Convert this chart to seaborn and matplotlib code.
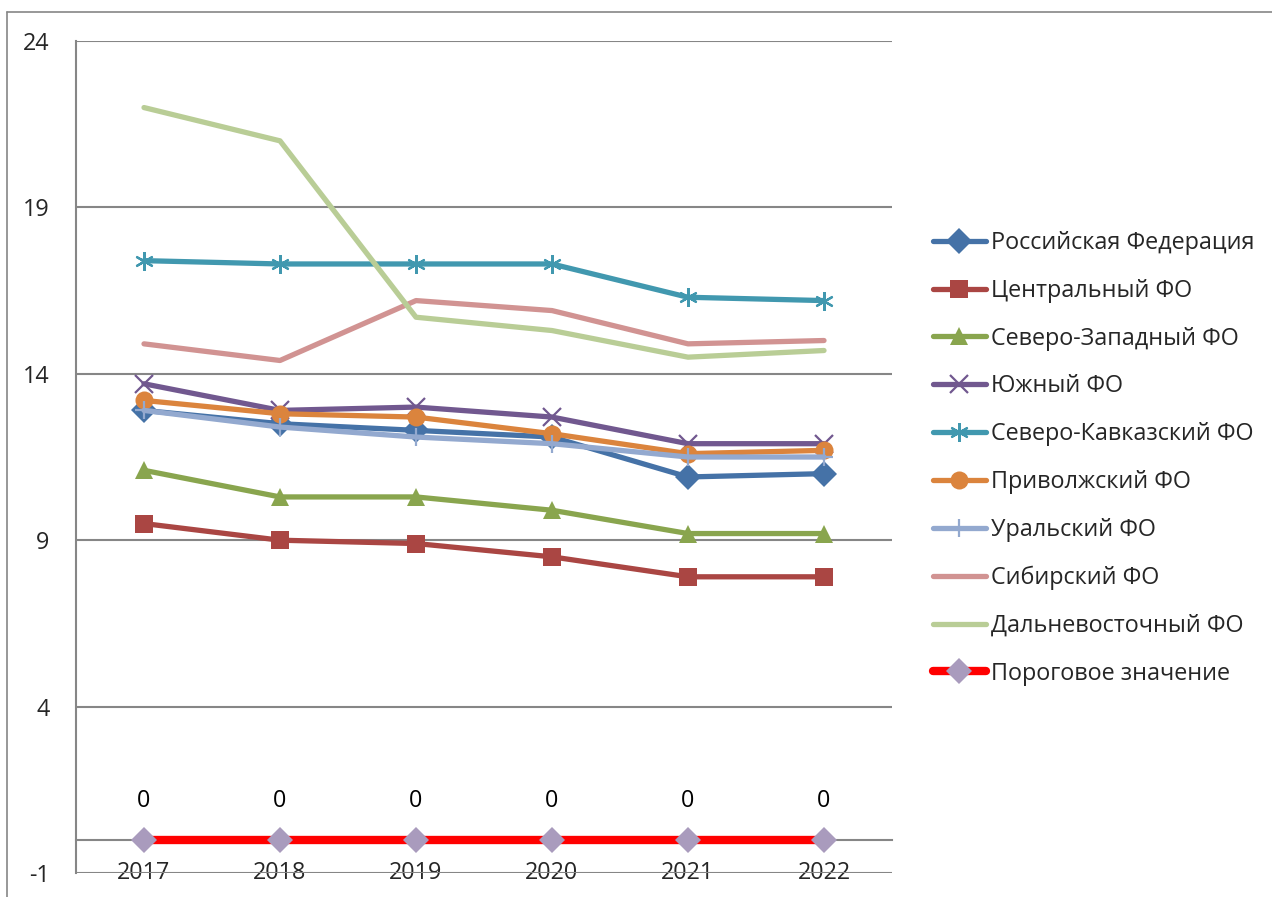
import pandas as pd
import numpy as np
import matplotlib
matplotlib.use("Agg")
import matplotlib.pyplot as plt
import seaborn as sns

# Data
years = ["2017", "2018", "2019", "2020", "2021", "2022"]
series_names = [
    "Российская Федерация",
    "Центральный ФО",
    "Северо-Западный ФО",
    "Южный ФО",
    "Северо-Кавказский ФО",
    "Приволжский ФО",
    "Уральский ФО",
    "Сибирский ФО",
    "Дальневосточный ФО",
    "Пороговое значение",
]
rf = [12.9, 12.5, 12.3, 12.1, 10.9, 11.0]
central = [9.5, 9.0, 8.9, 8.5, 7.9, 7.9]
north_west = [11.1, 10.3, 10.3, 9.9, 9.2, 9.2]
south = [13.7, 12.9, 13.0, 12.7, 11.9, 11.9]
north_caucasus = [17.4, 17.3, 17.3, 17.3, 16.3, 16.2]
volga = [13.2, 12.8, 12.7, 12.2, 11.6, 11.7]
ural = [12.9, 12.4, 12.1, 11.9, 11.5, 11.5]
siberia = [14.9, 14.4, 16.2, 15.9, 14.9, 15.0]
far_east = [22.0, 21.0, 15.7, 15.3, 14.5, 14.7]
threshold = [0, 0, 0, 0, 0, 0]

all_values = [rf, central, north_west, south, north_caucasus, volga, ural,
              siberia, far_east, threshold]

colors = ["#4572A7", "#AA4643", "#89A54E", "#71588F", "#4198AF", "#DB843D",
          "#93A9CF", "#D19392", "#B9CD96", "#FF0000"]
markers = ["D", "s", "^", "x", (6, 2, 0), "o", "+", None, None, "D"]

rows = []
for name, vals in zip(series_names, all_values):
    for i, (yr, v) in enumerate(zip(years, vals)):
        rows.append({"series": name, "year": yr, "pos": i, "value": v})
df = pd.DataFrame(rows)

sns.set_style("white")
plt.rcParams["font.family"] = ["Open Sans", "DejaVu Sans"]
plt.rcParams["axes.unicode_minus"] = False
grey = "#868686"
fs = 16.8

fig = plt.figure(figsize=(12.72, 8.97), dpi=100)
ax = fig.add_axes([76 / 1272, 1 - 873 / 897, (892 - 76) / 1272, (873 - 41) / 897])

for name, col, mk in zip(series_names, colors, markers):
    sub = df[df["series"] == name]
    lw = 6 if name == "Пороговое значение" else 3.8
    mfc = "#A99BBD" if name == "Пороговое значение" else col
    ms = 13 if mk in ("D", "s", "o", "^") else 13.5
    sns.lineplot(data=sub, x="pos", y="value", ax=ax, color=col, lw=lw,
                 marker=mk, markersize=ms, markerfacecolor=mfc,
                 markeredgecolor=mfc, markeredgewidth=1.6 if mk in ("x", "+", (6, 2, 0)) else 0,
                 label=name, zorder=3)

# data labels on threshold series
for i, v in enumerate(threshold):
    ax.annotate(f"{v:g}", (i, v), xytext=(0, 28), textcoords="offset points",
                ha="center", va="center", fontsize=fs, color="black")

ax.set_xlim(-0.5, len(years) - 0.5)
ax.set_ylim(-1, 24)
ax.set_yticks([-1, 4, 9, 14, 19, 24])
ax.yaxis.grid(True, color=grey, lw=1.5)
ax.set_axisbelow(True)
ax.set_xlabel("")
ax.set_ylabel("")

for s in ["top", "right"]:
    ax.spines[s].set_visible(False)
ax.spines["left"].set_color(grey)
ax.spines["left"].set_linewidth(1.5)
ax.spines["bottom"].set_position(("data", 0))
ax.spines["bottom"].set_color(grey)
ax.spines["bottom"].set_linewidth(1.5)

ax.set_xticks(range(len(years)))
ax.set_xticklabels(years)
ax.set_xticks(np.arange(-0.5, len(years)), minor=True)
ax.tick_params(axis="x", which="major", length=0, pad=15, labelsize=fs)
ax.tick_params(axis="x", which="minor", length=6, width=1.5, color=grey,
               direction="out")
ax.tick_params(axis="y", length=6, width=1.5, color=grey, direction="out",
               labelsize=fs, pad=13)

leg = ax.legend(loc="upper left", bbox_to_anchor=(933 / 1272, 1 - 231 / 897),
                bbox_transform=fig.transFigure, frameon=False, fontsize=fs,
                handlelength=2.25, handletextpad=0.25, labelspacing=1.02,
                borderpad=0, borderaxespad=0)

# outer chart frame
fig.add_artist(plt.Line2D([7 / 1272, 7 / 1272], [0, 1 - 12 / 897],
                          transform=fig.transFigure, color=grey, lw=1.2))
fig.add_artist(plt.Line2D([7 / 1272, 1], [1 - 12 / 897, 1 - 12 / 897],
                          transform=fig.transFigure, color=grey, lw=1.2))

fig.savefig("out.png", dpi=100)
